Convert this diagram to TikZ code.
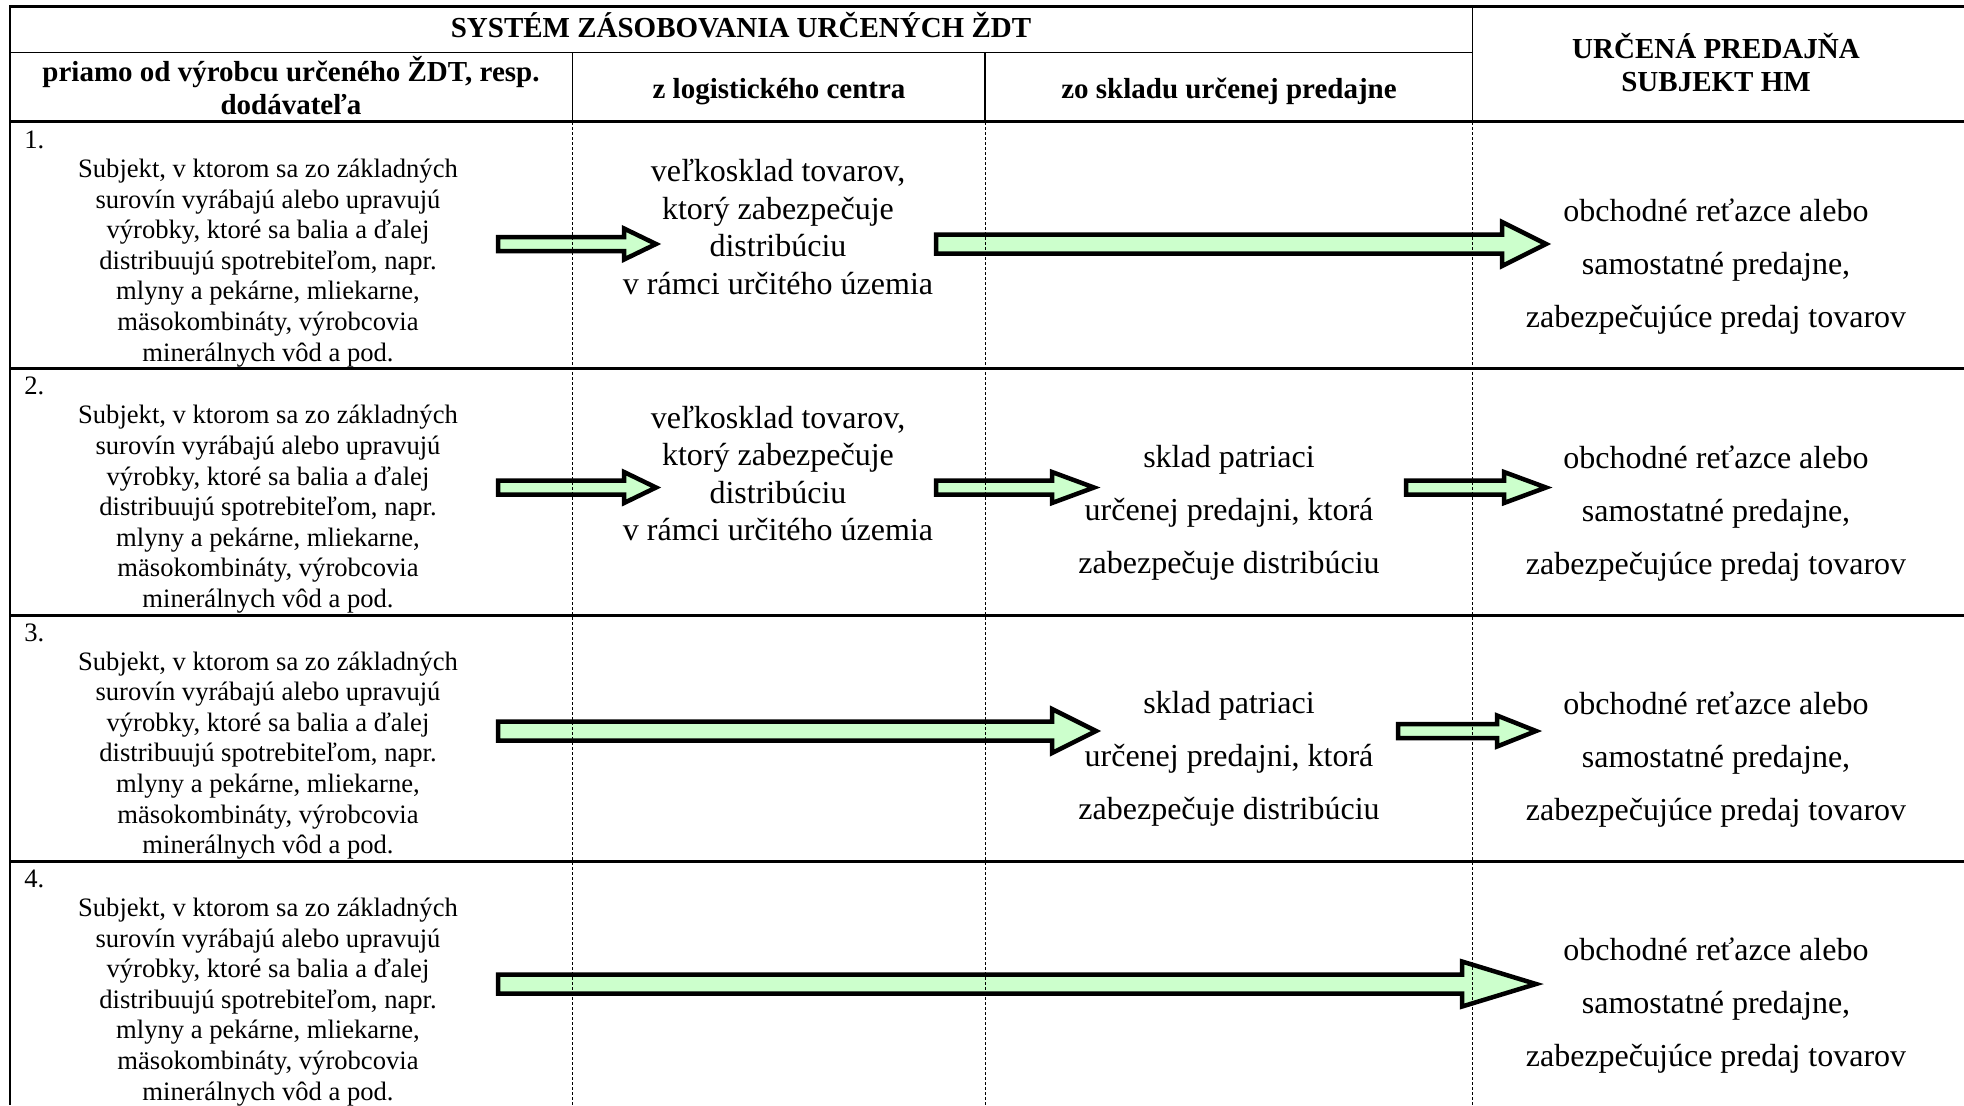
\documentclass[tikz,border=0pt]{standalone}
\usepackage{fontspec}
\setmainfont{Liberation Serif}
\definecolor{arrowgreen}{HTML}{CCFFCC}
\tikzset{
  hrule/.style={line width=1.5pt},
  frame/.style={line width=1pt},
  colrule/.style={line width=0.75pt},
  dashrule/.style={line width=0.5pt, dash pattern=on 1.5pt off 1pt},
  blockarr/.style={draw=black, fill=arrowgreen, line width=2.25pt, line join=miter, miter limit=10},
  hdr/.style={font=\bfseries\fontsize{14.5}{16.5}\selectfont, align=center, inner sep=0pt},
  bodytxt/.style={font=\fontsize{13.3}{15.3}\selectfont, align=center, inner sep=0pt},
  midtxt/.style={font=\fontsize{16}{18.75}\selectfont, align=center, inner sep=0pt},
  widetxt/.style={font=\fontsize{16}{26.5}\selectfont, align=center, inner sep=0pt},
  numtxt/.style={font=\fontsize{13.3}{15.3}\selectfont, anchor=west, inner sep=0pt},
}
% tail, head base, tip, y, shaft half, head half
\newcommand{\greenarrow}[6]{%
  \draw[blockarr] (#1,#4-#5) -- (#2,#4-#5) -- (#2,#4-#6) -- (#3,#4) -- (#2,#4+#6) -- (#2,#4+#5) -- (#1,#4+#5) -- cycle;}
\begin{document}
\begin{tikzpicture}[x=0.5pt,y=-0.5pt]
\useasboundingbox (0,0) rectangle (1964,1105);
\fill[white] (0,0) rectangle (1964,1105);

% ---- table frame ----
\draw[frame] (10,5) -- (10,1105);
\draw[hrule] (9,6) -- (1964,6);
\draw[colrule] (10,52.5) -- (1472.5,52.5);
\draw[colrule] (572.5,52.5) -- (572.5,121);
\draw[colrule] (985,52.5) -- (985,121);
\draw[colrule] (1472.5,6) -- (1472.5,121);
\draw[hrule] (9,121) -- (1964,121);
\draw[hrule] (9,368.5) -- (1964,368.5);
\draw[hrule] (9,615) -- (1964,615);
\draw[hrule] (9,861) -- (1964,861);

% ---- header ----
\node[hdr] (h1) at (741,25.5) {SYSTÉM ZÁSOBOVANIA URČENÝCH ŽDT};
\node[hdr] (h4) at (1716,63) {URČENÁ PREDAJŇA\\SUBJEKT HM};
\node[hdr] (hc1) at (291,86) {priamo od výrobcu určeného ŽDT, resp.\\dodávateľa};
\node[hdr] (hc2) at (779,91.5) {z logistického centra};
\node[hdr] (hc3) at (1229,91.5) {zo skladu určenej predajne};

% ---- rows: number, source, shop ----
\foreach \r/\t in {1/122, 2/368.3, 3/614.6, 4/860.9} {
  \node[numtxt] (num\r) at (24,\t+18) {\r.};
  \node[bodytxt] (src\r) at (268,\t+141) {Subjekt, v ktorom sa zo základných\\surovín vyrábajú alebo upravujú\\výrobky, ktoré sa balia a ďalej\\distribuujú spotrebiteľom, napr.\\mlyny a pekárne, mliekarne,\\mäsokombináty, výrobcovia\\minerálnych vôd a pod.};
  \node[widetxt] (shop\r) at (1716,\t+145) {obchodné reťazce alebo\\samostatné predajne,\\zabezpečujúce predaj tovarov};
}
\foreach \r/\t in {1/122, 2/368.3} {
  \node[midtxt] (log\r) at (778,\t+105) {veľkosklad tovarov,\\ktorý zabezpečuje\\distribúciu\\v rámci určitého územia};
}
\foreach \r/\t in {2/368.3, 3/614.6} {
  \node[widetxt] (stor\r) at (1229,\t+144.5) {sklad patriaci\\určenej predajni, ktorá\\zabezpečuje distribúciu};
}

% ---- block arrows ----
\greenarrow{498}{624}{656}{244}{7}{15.5}
\greenarrow{936}{1502}{1546}{244}{9.5}{22}
\greenarrow{498}{624}{656}{487.5}{7}{15.5}
\greenarrow{936}{1052}{1094}{487.5}{7}{15.5}
\greenarrow{1406}{1504}{1546}{487.5}{7}{15.5}
\greenarrow{498}{1052}{1096}{731}{9.5}{22}
\greenarrow{1398}{1497}{1536}{731}{7}{15.5}
\greenarrow{498}{1462}{1536}{984}{9.5}{22.5}

% ---- dashed column rules in body ----
\foreach \x in {572.5, 985, 1472.5} {
  \draw[dashrule] (\x,122) -- (\x,1105);
}
\end{tikzpicture}
\end{document}
